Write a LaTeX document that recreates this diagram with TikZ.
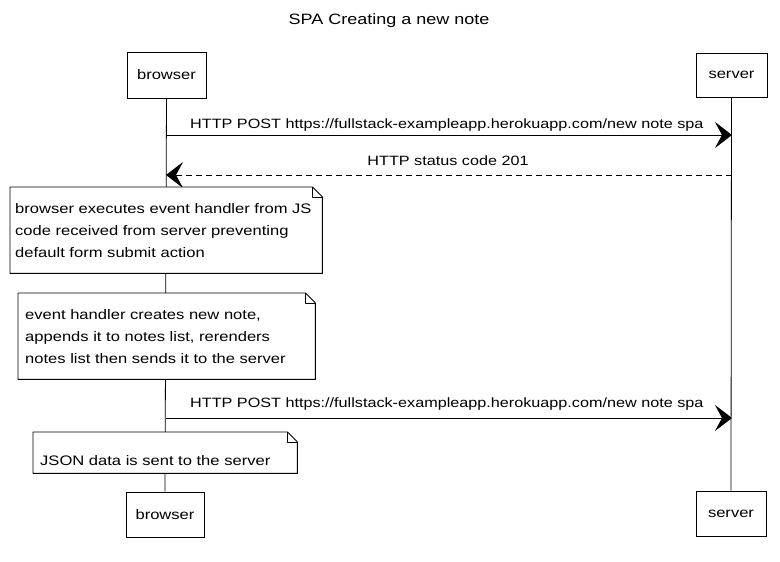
\documentclass[tikz,border=0pt]{standalone}
\usepackage{fontspec}
\setmainfont{Liberation Sans}[FakeStretch=1.2]
\usetikzlibrary{arrows.meta,calc}
\tikzset{
  txt/.style={font=\fontsize{13.8pt}{22pt}\selectfont},
  participant/.style={draw, line width=0.9pt, fill=white, inner sep=0pt, txt},
  notebox/.style={fill=white, inner ysep=0pt, anchor=north west, align=left, txt},
  noteline/.style={line width=0.9pt, line join=round},
  msg/.style={inner sep=0pt, font=\fontsize{13.5pt}{16pt}\selectfont},
  sync/.style={line width=1pt, -{Stealth[length=17pt,width=26pt,inset=7pt]}},
  reply/.style={sync, dash pattern=on 6pt off 4pt},
  life/.style={line width=0.8pt}
}
\newcommand{\notedraw}[1]{%
  \draw[noteline] (#1.north west) -- ($(#1.north east)+(-10,0)$) -- ($(#1.north east)+(0,10)$)
     -- (#1.south east) -- (#1.south west) -- cycle;
  \draw[noteline] ($(#1.north east)+(-10,0)$) -- ($(#1.north east)+(-10,10)$) -- ($(#1.north east)+(0,10)$);}
\begin{document}
\begin{tikzpicture}[x=1pt,y=-1pt]
\useasboundingbox (0,0) rectangle (780,562);
\fill[white] (0,0) rectangle (780,562);
% title
\node[font=\fontsize{15pt}{18pt}\selectfont, inner sep=0pt] (title) at (389,21) {SPA Creating a new note};
% participants
\node[participant, minimum width=79pt, minimum height=46pt] (bt) at (166.5,75) {browser};
\node[participant, minimum width=71pt, minimum height=44pt] (st) at (731.5,75) {server};
\node[participant, minimum width=78pt, minimum height=45pt] (bb) at (165,514.5) {browser};
\node[participant, minimum width=70pt, minimum height=45pt] (sb) at (731,513.5) {server};
% lifelines
\draw[life] (bt.south) -- (bb.north);
\draw[life] (st.south) -- (sb.north);
% message 1
\coordinate (m1b) at (166,135);
\coordinate (m1s) at (732,135);
\draw[sync] (m1b) -- (m1s);
\node[msg, anchor=base west] (l1) at (190,128) {HTTP POST https://fullstack-exampleapp.herokuapp.com/new note spa};
% message 2
\coordinate (m2s) at (732,175);
\coordinate (m2b) at (166,175);
\draw[reply] (m2s) -- (m2b);
\node[msg, anchor=base] (l2) at (448,165) {HTTP status code 201};
% note 1
\node[notebox, inner xsep=5pt, text width=302pt, minimum height=86pt] (n1) at (10,187)
  {browser executes event handler from JS\\code received from server preventing\\default form submit action};
\notedraw{n1}
% note 2
\node[notebox, inner xsep=7pt, text width=283pt, minimum height=86pt] (n2) at (18,293)
  {event handler creates new note,\\appends it to notes list, rerenders\\notes list then sends it to the server};
\notedraw{n2}
% message 3
\coordinate (m3b) at (166,418);
\coordinate (m3s) at (732,418);
\draw[sync] (m3b) -- (m3s);
\node[msg, anchor=base west] (l3) at (190,407) {HTTP POST https://fullstack-exampleapp.herokuapp.com/new note spa};
% note 3
\node[notebox, inner xsep=7pt, text width=250pt, minimum height=41pt, text height=28pt, text depth=3pt] (n3) at (33,432)
  {JSON data is sent to the server};
\notedraw{n3}
\end{tikzpicture}
\end{document}
